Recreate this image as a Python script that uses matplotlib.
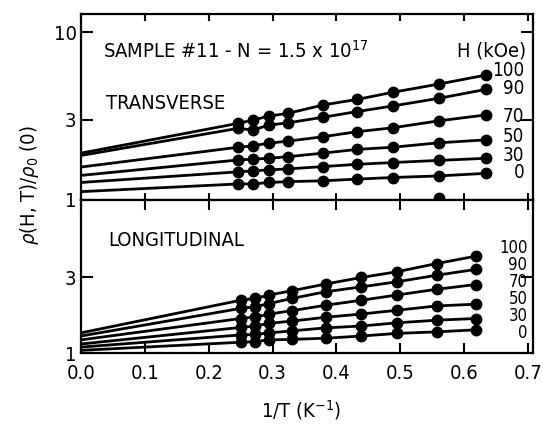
import matplotlib
matplotlib.use("Agg")
import matplotlib.pyplot as plt
from matplotlib.ticker import FixedLocator, FixedFormatter, NullLocator

plt.rcParams["font.family"] = ["DejaVu Sans"]
plt.rcParams["font.stretch"] = "condensed"  # narrow face if installed
plt.rcParams["mathtext.fontset"] = "dejavusans"

# ---- data ----
fields = ["100", "90", "70", "50", "30", "0"]  # H (kOe)

# transverse panel
x_trans = [0.246, 0.269, 0.294, 0.324, 0.379, 0.432, 0.488, 0.560, 0.634]
trans_100 = [2.86, 2.99, 3.16, 3.28, 3.68, 3.97, 4.38, 4.90, 5.55]
trans_90 = [2.67, 2.61, 2.79, 2.88, 3.11, 3.36, 3.63, 4.03, 4.56]
trans_70 = [2.06, 2.10, 2.18, 2.24, 2.38, 2.55, 2.69, 2.96, 3.21]
trans_50 = [1.73, 1.75, 1.77, 1.81, 1.90, 2.00, 2.06, 2.19, 2.28]
trans_30 = [1.47, 1.49, 1.51, 1.53, 1.58, 1.63, 1.67, 1.72, 1.77]
trans_0 = [1.245, 1.245, 1.27, 1.285, 1.30, 1.33, 1.36, 1.39, 1.44]
trans_at_zero = [1.90, 1.84, 1.57, 1.40, 1.27, 1.12]  # extrapolated to 1/T = 0
stray_x = [0.560]
stray_y = [1.03]

# longitudinal panel
x_long = [0.250, 0.273, 0.295, 0.331, 0.383, 0.439, 0.495, 0.557, 0.618]
long_100 = [2.15, 2.21, 2.32, 2.47, 2.72, 2.99, 3.25, 3.66, 4.07]
long_90 = [1.91, 1.96, 2.05, 2.21, 2.43, 2.61, 2.81, 3.09, 3.36]
long_70 = [1.65, 1.69, 1.76, 1.85, 2.00, 2.15, 2.32, 2.52, 2.70]
long_50 = [1.45, 1.48, 1.54, 1.59, 1.68, 1.76, 1.86, 1.98, 2.03]
long_30 = [1.30, 1.31, 1.34, 1.38, 1.44, 1.48, 1.55, 1.61, 1.65]
long_0 = [1.17, 1.18, 1.21, 1.22, 1.24, 1.28, 1.33, 1.36, 1.40]
long_at_zero = [1.34, 1.28, 1.21, 1.14, 1.09, 1.04]

trans_rows = [trans_100, trans_90, trans_70, trans_50, trans_30, trans_0]
long_rows = [long_100, long_90, long_70, long_50, long_30, long_0]

# where the field labels sit on the right (layout only)
trans_label_y = [5.94, 4.64, 3.16, 2.40, 1.85, 1.45]
long_label_y = [4.58, 3.58, 2.80, 2.19, 1.71, 1.34]

FS = 14.5

fig = plt.figure(figsize=(5.43, 4.29), dpi=100)
ax1 = fig.add_axes([0.149, 0.534, 0.833, 0.433])
ax2 = fig.add_axes([0.149, 0.177, 0.833, 0.357])


def draw_panel(ax, xs, rows, zeros, ylim, yticks):
    for vals, y0 in zip(rows, zeros):
        ax.plot([0.0] + xs, [y0] + vals, color="black", lw=2.0, zorder=2)
        ax.plot(xs, vals, "o", color="black", ms=7.5, zorder=3)
    ax.set_yscale("log")
    ax.set_xlim(0, 0.708)
    ax.set_ylim(*ylim)
    ax.yaxis.set_major_locator(FixedLocator(yticks))
    ax.yaxis.set_major_formatter(FixedFormatter([str(t) for t in yticks]))
    ax.yaxis.set_minor_locator(NullLocator())
    ax.xaxis.set_major_locator(FixedLocator([0.0, 0.1, 0.2, 0.3, 0.4, 0.5, 0.6, 0.7]))
    ax.tick_params(axis="y", direction="in", length=8.5, width=1.5,
                   right=True, labelsize=FS, pad=3)
    for sp in ax.spines.values():
        sp.set_linewidth(1.6)


draw_panel(ax1, x_trans, trans_rows, trans_at_zero, (1, 12.8), [1, 3, 10])
ax1.plot(stray_x, stray_y, "o", color="black", ms=7.5, zorder=3, clip_on=False)
ax1.tick_params(axis="x", direction="in", length=5, width=1.5, top=True,
                labelbottom=False)

draw_panel(ax2, x_long, long_rows, long_at_zero, (1, 9.2), [1, 3])
ax2.tick_params(axis="x", direction="in", length=7, width=1.5, top=True,
                labelsize=FS, pad=8)
ax2.set_xticklabels(["0.0", "0.1", "0.2", "0.3", "0.4", "0.5", "0.6", "0.7"])

# field labels
for lab, y in zip(fields, trans_label_y):
    ax1.text(0.694, y, lab, ha="right", va="center", fontsize=13.5)
for lab, y in zip(fields, long_label_y):
    ax2.text(0.699, y, lab, ha="right", va="center", fontsize=12)

ax1.text(0.049, 0.80, r"SAMPLE #11 - N = 1.5 x 10$^{17}$", transform=ax1.transAxes,
         ha="left", va="center", fontsize=FS)
ax1.text(0.985, 0.80, "H (kOe)", transform=ax1.transAxes,
         ha="right", va="center", fontsize=FS)
ax1.text(0.055, 0.52, "TRANSVERSE", transform=ax1.transAxes,
         ha="left", va="center", fontsize=FS)
ax2.text(0.06, 0.732, "LONGITUDINAL", transform=ax2.transAxes,
         ha="left", va="center", fontsize=FS)

fig.text(0.055, 0.569, r"$\rho$(H, T)/$\rho_0$ (0)", rotation=90,
         ha="center", va="center", fontsize=FS)
fig.text(0.555, 0.044, r"1/T (K$^{-1}$)", ha="center", va="center", fontsize=FS)

fig.savefig("out.png", dpi=100)
